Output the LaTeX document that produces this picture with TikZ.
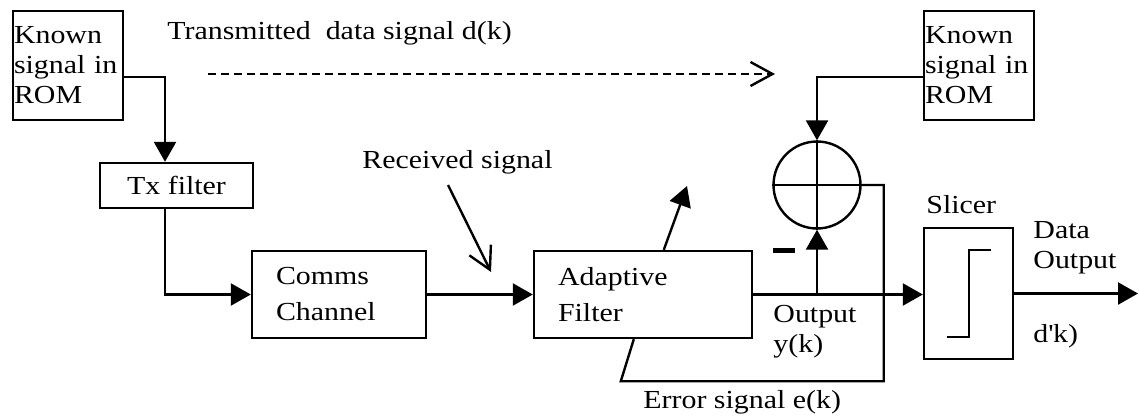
\documentclass[tikz,border=0pt]{standalone}
\usepackage{fontspec}
\setmainfont[FakeStretch=1.15]{Liberation Serif}
\usetikzlibrary{arrows.meta,calc}

\tikzset{
    blk/.style={draw, line width=1.2pt, inner ysep=0pt, align=left},
    wire/.style={line width=1.2pt},
    sig/.style={wire, -{Triangle[length=10pt,width=11pt]}},
    barb/.style={line width=1.2pt, -{Straight Barb[length=11pt,width=12pt]}},
    lbl/.style={anchor=base west, inner sep=0pt, align=left},
}

\begin{document}
\begin{tikzpicture}[x=0.5pt,y=-0.5pt,font=\fontsize{13}{15}\selectfont]

    \useasboundingbox (0,0) rectangle (1139,417);

    % blocks
    \node[blk, minimum width=55pt, minimum height=54.5pt, text width=54pt, inner xsep=0.5pt] (rom1) at (68,65.5) {Known\\signal in\\ROM};
    \node[blk, minimum width=55pt, minimum height=54.5pt, text width=54pt, inner xsep=0.5pt] (rom2) at (979,65.5) {Known\\signal in\\ROM};
    \node[blk, align=center, minimum width=76.5pt, minimum height=22.5pt] (tx) at (176.5,185.5) {Tx filter};
    \node[blk, minimum height=43.5pt, text width=63pt, inner xsep=12pt] (comms) at (339,294.5) {Comms\\[3pt]Channel};
    \node[blk, minimum height=43.5pt, text width=85pt, inner xsep=12pt] (adapt) at (643,294.5) {Adaptive\\[3pt]Filter};
    \node[draw, circle, line width=1.2pt, minimum size=43.5pt, inner sep=0pt] (sum) at (817,185) {};
    \node[blk, minimum width=44.5pt, minimum height=65.5pt] (slicer) at (968.5,293.5) {};

    \draw[wire] (sum.north) -- (sum.south);
    \draw[wire] (sum.west) -- (sum.east);
    % step inside the slicer
    \draw[line width=1pt] ($(slicer.center)+(-21.5,43.5)$) -- ++(21.5,0) -- ++(0,-87) -- ++(22,0);

    % labels (base is the last line)
    \node[lbl] (txlbl) at (167,40) {Transmitted\ \ data signal d(k)};
    \node[lbl] (rxlbl) at (362,168) {Received signal};
    \node[lbl] (outlbl) at (773,352) {Output\\y(k)};
    \node[lbl] (errlbl) at (643,408) {Error signal e(k)};
    \node[lbl] (slclbl) at (926,213) {Slicer};
    \node[lbl] (datalbl) at (1033,268) {Data\\Output};
    \node[lbl] (dklbl) at (1033,342) {d\textquotesingle k)};

    \coordinate (txs) at (208,74);
    \coordinate (txe) at (775,74);
    \coordinate (rxs) at (448,185);
    \coordinate (rxe) at (491,272);
    \coordinate (adj) at (687,186);
    \coordinate (tap) at (sum.south |- adapt.east);
    \coordinate (dout) at (1138,293.5);

    % signal path
    \draw[sig] ($(rom1.east)+(0,11.5)$) -| ($(tx.north)+(-11.5,0)$);
    \draw[sig] ($(tx.south)+(-11.5,0)$) |- (comms.west);
    \draw[sig] (comms.east) -- (adapt.west);
    \draw[sig] (adapt.east) -- (adapt.east -| slicer.west);
    \draw[sig] (tap) -- (sum.south);
    \draw[sig] ($(rom2.west)+(0,11.5)$) -| (sum.north);
    \draw[sig] (slicer.east) -- (dout);
    \draw[sig] ($(adapt.north west)+(131,0)$) -- (adj);

    % error feedback
    \draw[wire] (sum.east) -- ++(22,0) |- ($(adapt.south west)+(88,42)$) -- ($(adapt.south west)+(101,0)$);

    \draw[barb, dash pattern=on 4pt off 2.5pt] (txs) -- (txe);
    \draw[barb] (rxs) -- (rxe);
    \draw[line width=2.5pt] (773,250) -- (795,250);

\end{tikzpicture}
\end{document}
